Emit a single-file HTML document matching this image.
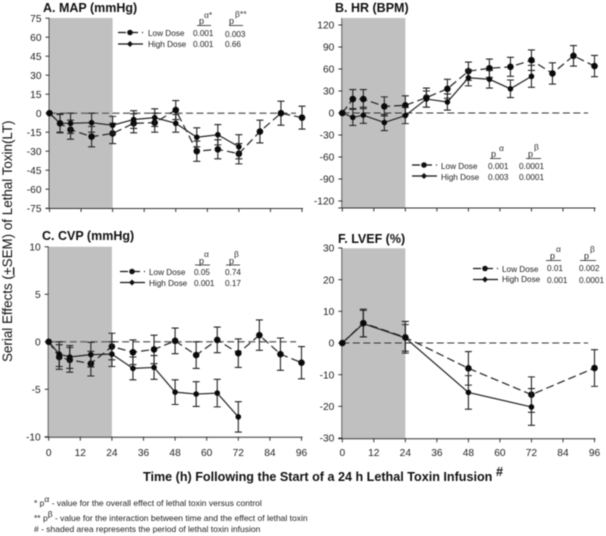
<!DOCTYPE html>
<html>
<head>
<meta charset="utf-8">
<title>Serial Effects of Lethal Toxin</title>
<style>
html,body{margin:0;padding:0;background:#fff;}
body{width:606px;height:536px;overflow:hidden;}
svg{display:block;font-family:"Liberation Sans",sans-serif;filter:blur(0.45px);}
.ttl{font-size:12.5px;font-weight:bold;fill:#111;}
.lg{font-size:8.2px;fill:#222;}
.pp{font-size:9px;fill:#222;}
.sup{font-size:8.5px;fill:#333;}
.fn{font-size:8.5px;fill:#222;}
</style>
</head>
<body>
<svg id="chart" width="606" height="536" viewBox="0 0 606 536" xmlns="http://www.w3.org/2000/svg">
  <g id="panels"></g>

  <text class="ttl" x="43" y="12">A. MAP (mmHg)</text>
  <text class="ttl" x="335" y="12">B. HR (BPM)</text>
  <text class="ttl" x="42" y="240">C. CVP (mmHg)</text>
  <text class="ttl" x="338" y="243">F. LVEF (%)</text>

  <g>
    <text class="lg" x="148" y="36">Low Dose</text>
    <text class="lg" x="148" y="47">High Dose</text>
    <text class="lg" x="193" y="36">0.001</text><text class="lg" x="193" y="47">0.001</text>
    <text class="lg" x="225" y="37">0.003</text><text class="lg" x="225" y="47">0.66</text>
    <text class="pp" x="199" y="24">p</text><text class="sup" x="204" y="18">α*</text>
    <text class="pp" x="229" y="24">p</text><text class="sup" x="235" y="17">β**</text>
    <line x1="197" x2="211" y1="25.5" y2="25.5" stroke="#222" stroke-width="0.8"/>
    <line x1="229" x2="243" y1="25.5" y2="25.5" stroke="#222" stroke-width="0.8"/>
    <line x1="118" x2="143" y1="32.5" y2="32.5" stroke="#111" stroke-width="1.2" stroke-dasharray="8 4"/>
    <circle cx="130" cy="32.5" r="2.8" fill="#111"/>
    <line x1="118" x2="143" y1="44" y2="44" stroke="#111" stroke-width="1.2"/>
    <path d="M130 41 L133 44 L130 47 L127 44Z" fill="#111"/>
  </g>

  <g>
    <text class="lg" x="441" y="169">Low Dose</text>
    <text class="lg" x="441" y="180">High Dose</text>
    <text class="lg" x="488" y="169">0.001</text><text class="lg" x="488" y="180">0.003</text>
    <text class="lg" x="519" y="169">0.0001</text><text class="lg" x="519" y="180">0.0001</text>
    <text class="pp" x="491" y="157">p</text><text class="sup" x="499" y="151">α</text>
    <text class="pp" x="528" y="157">p</text><text class="sup" x="534" y="150">β</text>
    <line x1="490" x2="501" y1="158.5" y2="158.5" stroke="#222" stroke-width="0.8"/>
    <line x1="526" x2="541" y1="158.5" y2="158.5" stroke="#222" stroke-width="0.8"/>
    <line x1="412" x2="437" y1="165" y2="165" stroke="#111" stroke-width="1.2" stroke-dasharray="8 4"/>
    <circle cx="424" cy="165" r="2.8" fill="#111"/>
    <line x1="412" x2="437" y1="176" y2="176" stroke="#111" stroke-width="1.2"/>
    <path d="M424 173 L427 176 L424 179 L421 176Z" fill="#111"/>
  </g>

  <g>
    <text class="lg" x="149" y="275">Low Dose</text>
    <text class="lg" x="149" y="286">High Dose</text>
    <text class="lg" x="194" y="275">0.05</text><text class="lg" x="194" y="286">0.001</text>
    <text class="lg" x="225" y="275">0.74</text><text class="lg" x="225" y="286">0.17</text>
    <text class="pp" x="199" y="264">p</text><text class="sup" x="204" y="257">α</text>
    <text class="pp" x="229" y="264">p</text><text class="sup" x="234" y="257">β</text>
    <line x1="195" x2="210" y1="265" y2="265" stroke="#222" stroke-width="0.8"/>
    <line x1="226" x2="240" y1="265" y2="265" stroke="#222" stroke-width="0.8"/>
    <line x1="120" x2="145" y1="271.5" y2="271.5" stroke="#111" stroke-width="1.2" stroke-dasharray="8 4"/>
    <circle cx="132" cy="271.5" r="2.8" fill="#111"/>
    <line x1="120" x2="145" y1="282.5" y2="282.5" stroke="#111" stroke-width="1.2"/>
    <path d="M132 279.5 L135 282.5 L132 285.5 L129 282.5Z" fill="#111"/>
  </g>

  <g>
    <text class="lg" x="502" y="272">Low Dose</text>
    <text class="lg" x="502" y="282">High Dose</text>
    <text class="lg" x="547" y="271">0.01</text><text class="lg" x="547" y="283">0.001</text>
    <text class="lg" x="579" y="271">0.002</text><text class="lg" x="579" y="283">0.0001</text>
    <text class="pp" x="550" y="259">p</text><text class="sup" x="556" y="252">α</text>
    <text class="pp" x="584" y="259">p</text><text class="sup" x="590" y="252">β</text>
    <line x1="546" x2="561" y1="260.5" y2="260.5" stroke="#222" stroke-width="0.8"/>
    <line x1="580" x2="596" y1="260.5" y2="260.5" stroke="#222" stroke-width="0.8"/>
    <line x1="473" x2="498" y1="268.5" y2="268.5" stroke="#111" stroke-width="1.2" stroke-dasharray="8 4"/>
    <circle cx="485" cy="268.5" r="2.8" fill="#111"/>
    <line x1="473" x2="498" y1="279.5" y2="279.5" stroke="#111" stroke-width="1.2"/>
    <path d="M485 276.5 L488 279.5 L485 282.5 L482 279.5Z" fill="#111"/>
  </g>

  <text transform="translate(12,362) rotate(-90)" font-size="13.4" font-weight="400" fill="#111">Serial Effects (<tspan text-decoration="underline">+</tspan>SEM) of Lethal Toxin(LT)</text>

  <text x="143" y="481" font-size="12.6" font-weight="bold" fill="#111">Time (h) Following the Start of a 24 h Lethal Toxin Infusion</text>
  <text x="496" y="476" font-size="12.6" font-weight="bold" fill="#111">#</text>

  <g>
    <text class="fn" x="34" y="506">* p<tspan font-size="8.5" dy="-4">α</tspan><tspan dy="4"> - value for the overall effect of lethal toxin versus control</tspan></text>
    <text class="fn" x="34" y="521">** p<tspan font-size="8.5" dy="-4">β</tspan><tspan dy="4"> - value for the interaction between time and the effect of lethal toxin</tspan></text>
    <text class="fn" x="34" y="532"># - shaded area represents the period of lethal toxin infusion</text>
  </g>
</svg>

<script>
var hoursFull = [0,4,8,16,24,32,40,48,56,64,72,80,88,96];
var hoursHigh = [0,4,8,16,24,32,40,48,56,64,72];
var hoursLvefLow = [0,8,24,48,72,96];
var hoursLvefHigh = [0,8,24,48,72];

var mapLow = [0,-8,-13,-18.5,-16,-8,-7.5,2.5,-30,-28.5,-32,-14.5,0,-3.5];
var mapLowErr = [0,7,7.5,8,8,7.5,7.5,7.5,8,7.5,8,9,9.5,9];
var mapHigh = [0,-8,-8,-7.5,-9.5,-5,-3.5,-8,-19,-17,-26.5];
var mapHighErr = [0,7.5,8,7.5,7,7,7,7,7.5,8,9.5];

var hrLow = [0,19,19,9,10.5,21,33,57,61,63,72,54,78,64];
var hrLowErr = [0,13,13,13,13,13,13,12.5,12.5,13,14,14.5,14,14.5];
var hrHigh = [0,-6,-3,-13,-3.5,19,15,48,46,33,50];
var hrHighErr = [0,11,11,11,11,11,11,11,12,12,15];

var cvpLow = [0,-1.6,-1.9,-2.3,-0.5,-1.1,-0.8,0.1,-1.4,0.2,-1.2,0.7,-1.3,-2.2];
var cvpLowErr = [0,1.3,1.3,1.3,1.4,1.3,1.5,1.35,1.4,1.35,1.5,1.6,1.7,1.7];
var cvpHigh = [0,-1.3,-1.6,-1.35,-1.3,-2.8,-2.7,-5.3,-5.5,-5.4,-7.9];
var cvpHighErr = [0,1.3,1.2,1.3,1.3,1.2,1.25,1.3,1.3,1.45,1.6];

var lvefLow = [0,6.3,1.8,-8,-16.3,-7.9];
var lvefLowErr = [0,4.4,5,5.3,5.6,5.8];
var lvefHigh = [0,6.1,1.6,-15.6,-20.2];
var lvefHighErr = [0,4.2,4.2,5.3,5.8];

var xTickValues = [0,12,24,36,48,60,72,84,96];
var mapTicks = [75,60,45,30,15,0,-15,-30,-45,-60,-75];
var hrTicks = [120,90,60,30,0,-30,-60,-90,-120];
var cvpTicks = [10,5,0,-5,-10];
var lvefTicks = [30,20,10,0,-10,-20,-30];

var NS = 'http://www.w3.org/2000/svg';
var root = document.getElementById('panels');

function mk(parent, tag, attrs) {
  var el = document.createElementNS(NS, tag);
  for (var k in attrs) { el.setAttribute(k, attrs[k]); }
  parent.appendChild(el);
  return el;
}

function drawSeries(g, hours, vals, errs, sx, sy, isLow) {
  var s = mk(g, 'g', {});
  
  
  var pts = hours.map(function (h, i) { return sx(h).toFixed(2) + ',' + sy(vals[i]).toFixed(2); }).join(' ');
  var lineAttrs = {points: pts, fill: 'none', stroke: '#222', 'stroke-width': 1.2};
  if (isLow) { lineAttrs['stroke-dasharray'] = '8 4'; }
  var ln = mk(s, 'polyline', lineAttrs);
  
  
  hours.forEach(function (h, i) {
    var x = sx(h), y = sy(vals[i]);
    if (errs[i] > 0) {
      var t = sy(vals[i] + errs[i]), b = sy(vals[i] - errs[i]);
      var eb = mk(s, 'path', {d: 'M' + x + ' ' + t + 'V' + b + 'M' + (x - 3.5) + ' ' + t + 'H' + (x + 3.5) + 'M' + (x - 3.5) + ' ' + b + 'H' + (x + 3.5), fill: 'none', stroke: '#222', 'stroke-width': 1.1});
      
      
    }
    var m;
    if (isLow) {
      m = mk(s, 'circle', {cx: x, cy: y, r: 3.3, fill: '#0a0a0a'});
    } else {
      m = mk(s, 'circle', {cx: x, cy: y, r: 2.8, fill: '#0a0a0a'});
    }
    
    
  });
}

function drawPanel(c) {
  var g = mk(root, 'g', {});
  
  
  var sx = function (h) { return c.x0 + (c.x96 - c.x0) * h / 96; };
  var sy = function (v) { return c.yZero - v * c.pxPerUnit; };

  var sh = mk(g, 'rect', {x: sx(0), y: c.top, width: sx(24) - sx(0), height: c.bottom - c.top, fill: '#c0c0c0'});
  
  

  var ya = mk(g, 'line', {x1: c.x0 - 0.5, x2: c.x0 - 0.5, y1: c.top, y2: c.bottom, stroke: '#555', 'stroke-width': 1});
  
  
  var xa = mk(g, 'line', {x1: c.x0 - 4, x2: c.x96 + 1, y1: c.bottom + 0.5, y2: c.bottom + 0.5, stroke: '#333', 'stroke-width': 1});
  
  

  var zl = mk(g, 'line', {x1: c.x0, x2: c.zeroEnd, y1: c.yZero, y2: c.yZero, stroke: c.zeroColor, 'stroke-width': c.zeroWidth, 'stroke-dasharray': '7 3.5'});
  
  

  c.yTicks.forEach(function (v) {
    var y = sy(v);
    var tk = mk(g, 'line', {x1: c.x0 - 4, x2: c.x0, y1: y, y2: y, stroke: '#333', 'stroke-width': 1});
    
    
    var lb = mk(g, 'text', {x: c.x0 - 8, y: y + 3.6, 'text-anchor': 'end', 'font-size': 10.2, fill: '#222'});
    
    
    lb.textContent = v;
  });

  xTickValues.forEach(function (h) {
    var x = sx(h);
    var tk = mk(g, 'line', {x1: x, x2: x, y1: c.bottom, y2: c.bottom + 4, stroke: '#333', 'stroke-width': 1});
    
    
    if (c.xLabels) {
      var lb = mk(g, 'text', {x: x, y: 456, 'text-anchor': 'middle', 'font-size': 10.2, fill: '#222'});
      
      
      lb.textContent = h;
    }
  });

  drawSeries(g, c.lowHours, c.low, c.lowErr, sx, sy, true);
  drawSeries(g, c.highHours, c.high, c.highErr, sx, sy, false);
}

drawPanel({name: 'panel-a-map', x0: 49.5, x96: 302, top: 18, bottom: 208, yZero: 113.2, pxPerUnit: 190 / 150, yTicks: mapTicks, xLabels: false, zeroEnd: 296, zeroColor: '#666', zeroWidth: 1.4, lowHours: hoursFull, low: mapLow, lowErr: mapLowErr, highHours: hoursHigh, high: mapHigh, highErr: mapHighErr});
drawPanel({name: 'panel-b-hr', x0: 342.3, x96: 594.5, top: 18, bottom: 207.5, yZero: 113, pxPerUnit: 22 / 30, yTicks: hrTicks, xLabels: false, zeroEnd: 588, zeroColor: '#333', zeroWidth: 1, lowHours: hoursFull, low: hrLow, lowErr: hrLowErr, highHours: hoursHigh, high: hrHigh, highErr: hrHighErr});
drawPanel({name: 'panel-c-cvp', x0: 48.7, x96: 301.5, top: 246.7, bottom: 436.7, yZero: 341.8, pxPerUnit: 9.5, yTicks: cvpTicks, xLabels: true, zeroEnd: 296, zeroColor: '#666', zeroWidth: 1.4, lowHours: hoursFull, low: cvpLow, lowErr: cvpLowErr, highHours: hoursHigh, high: cvpHigh, highErr: cvpHighErr});
drawPanel({name: 'panel-f-lvef', x0: 342.3, x96: 594.5, top: 248.3, bottom: 438.3, yZero: 343, pxPerUnit: 190 / 60, yTicks: lvefTicks, xLabels: true, zeroEnd: 588, zeroColor: '#333', zeroWidth: 1, lowHours: hoursLvefLow, low: lvefLow, lowErr: lvefLowErr, highHours: hoursLvefHigh, high: lvefHigh, highErr: lvefHighErr});
</script>
</body>
</html>
